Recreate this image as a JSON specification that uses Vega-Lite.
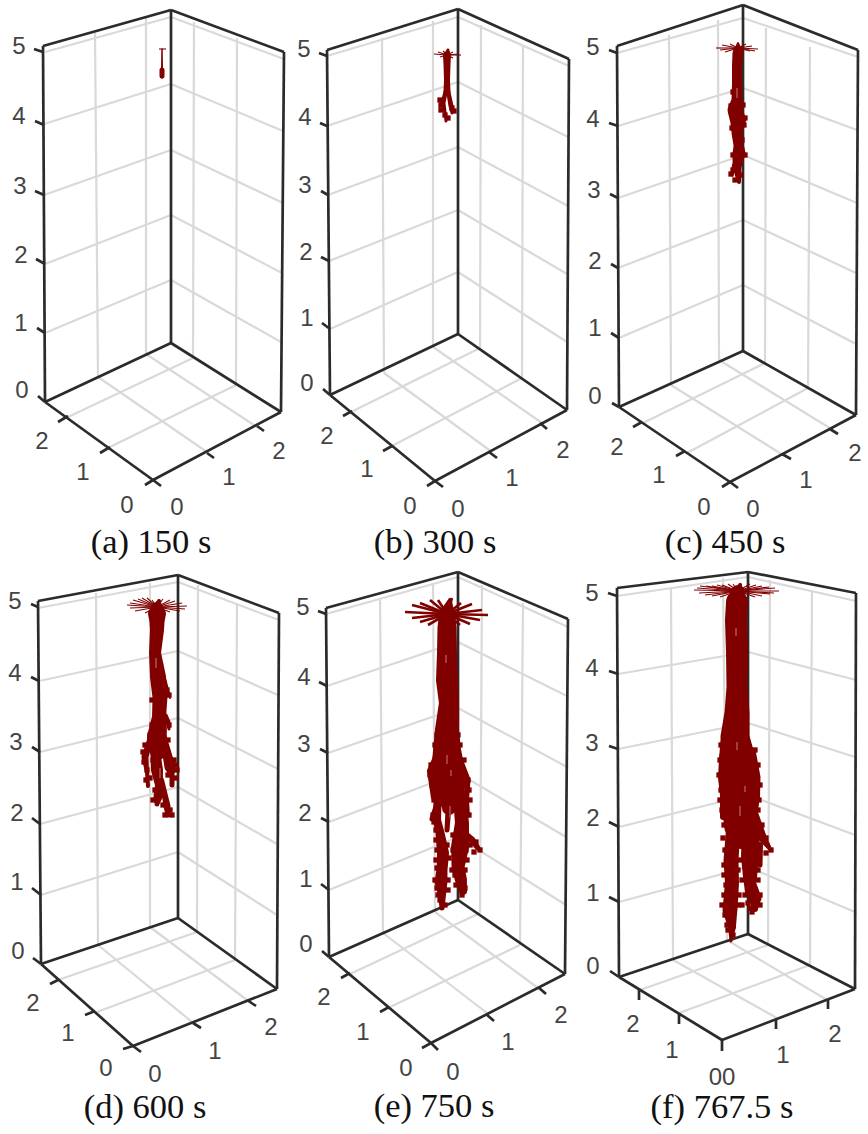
{
  "$schema": "https://vega.github.io/schema/vega-lite/v6.json",
  "autosize": {"type": "fit", "contains": "padding"},
  "width": 868,
  "height": 1134,
  "padding": 0,
  "background": "white",
  "datasets": {
    "grid": [
      {"x":45,"y":52,"x2":171,"y2":17},{"x":44,"y":124,"x2":171,"y2":84},{"x":44,"y":195,"x2":171,"y2":150},{"x":45,"y":264,"x2":171,"y2":215},{"x":45,"y":333,"x2":171,"y2":280},
      {"x":171,"y":17,"x2":284,"y2":59},{"x":171,"y":84,"x2":283,"y2":131},{"x":171,"y":150,"x2":283,"y2":203},{"x":171,"y":215,"x2":282,"y2":273},{"x":171,"y":280,"x2":281,"y2":342},
      {"x":95,"y":33,"x2":98,"y2":377},{"x":146,"y":18,"x2":146,"y2":354},{"x":194,"y":22,"x2":193,"y2":358},{"x":237,"y":38,"x2":236,"y2":385},
      {"x":98,"y":377,"x2":207,"y2":452},{"x":146,"y":354,"x2":257,"y2":427},{"x":193,"y":358,"x2":68,"y2":417},{"x":236,"y":385,"x2":110,"y2":447},

      {"x":327,"y":56,"x2":458,"y2":17},{"x":327,"y":126,"x2":458,"y2":82},{"x":328,"y":195,"x2":458,"y2":147},{"x":329,"y":261,"x2":458,"y2":210},{"x":330,"y":329,"x2":458,"y2":272},
      {"x":458,"y":17,"x2":569,"y2":66},{"x":458,"y":82,"x2":568,"y2":137},{"x":458,"y":147,"x2":568,"y2":206},{"x":458,"y":210,"x2":567,"y2":274},{"x":458,"y":272,"x2":567,"y2":342},
      {"x":382,"y":38,"x2":384,"y2":373},{"x":433,"y":21,"x2":433,"y2":347},{"x":481,"y":25,"x2":480,"y2":348},{"x":523,"y":45,"x2":522,"y2":378},
      {"x":384,"y":373,"x2":492,"y2":452},{"x":433,"y":347,"x2":542,"y2":423},{"x":480,"y":348,"x2":347,"y2":414},{"x":522,"y":378,"x2":390,"y2":447},

      {"x":617,"y":53,"x2":743,"y2":18},{"x":618,"y":126,"x2":743,"y2":88},{"x":618,"y":198,"x2":743,"y2":155},{"x":618,"y":268,"x2":743,"y2":220},{"x":619,"y":338,"x2":743,"y2":285},
      {"x":743,"y":18,"x2":858,"y2":57},{"x":743,"y":88,"x2":857,"y2":130},{"x":743,"y":155,"x2":857,"y2":203},{"x":743,"y":220,"x2":856,"y2":273},{"x":743,"y":285,"x2":856,"y2":344},
      {"x":669,"y":35,"x2":671,"y2":385},{"x":718,"y":20,"x2":719,"y2":360},{"x":766,"y":28,"x2":765,"y2":363},{"x":810,"y":47,"x2":808,"y2":388},
      {"x":671,"y":385,"x2":783,"y2":455},{"x":719,"y":360,"x2":833,"y2":430},{"x":765,"y":363,"x2":643,"y2":423},{"x":808,"y":388,"x2":687,"y2":453},

      {"x":38,"y":608,"x2":178,"y2":582},{"x":39,"y":681,"x2":178,"y2":651},{"x":40,"y":752,"x2":178,"y2":718},{"x":40,"y":824,"x2":178,"y2":787},{"x":41,"y":895,"x2":178,"y2":852},
      {"x":178,"y":582,"x2":279,"y2":620},{"x":178,"y":651,"x2":278,"y2":695},{"x":178,"y":718,"x2":278,"y2":769},{"x":178,"y":787,"x2":277,"y2":844},{"x":178,"y":852,"x2":277,"y2":915},
      {"x":96,"y":593,"x2":98,"y2":945},{"x":150,"y":583,"x2":150,"y2":927},{"x":198,"y":585,"x2":197,"y2":932},{"x":237,"y":603,"x2":235,"y2":960},
      {"x":98,"y":945,"x2":192,"y2":1022},{"x":150,"y":927,"x2":247,"y2":1000},{"x":197,"y":932,"x2":58,"y2":980},{"x":235,"y":960,"x2":97,"y2":1012},

      {"x":326,"y":614,"x2":458,"y2":577},{"x":327,"y":686,"x2":458,"y2":642},{"x":328,"y":753,"x2":458,"y2":708},{"x":329,"y":822,"x2":458,"y2":773},{"x":329,"y":890,"x2":458,"y2":837},
      {"x":458,"y":577,"x2":568,"y2":627},{"x":458,"y":642,"x2":567,"y2":696},{"x":458,"y":708,"x2":567,"y2":767},{"x":458,"y":773,"x2":566,"y2":837},{"x":458,"y":837,"x2":566,"y2":905},
      {"x":380,"y":598,"x2":383,"y2":933},{"x":433,"y":583,"x2":435,"y2":912},{"x":482,"y":585,"x2":480,"y2":913},{"x":523,"y":603,"x2":520,"y2":945},
      {"x":383,"y":933,"x2":487,"y2":1013},{"x":435,"y":912,"x2":538,"y2":988},{"x":480,"y":913,"x2":350,"y2":974},{"x":520,"y":945,"x2":390,"y2":1007},

      {"x":617,"y":596,"x2":748,"y2":577},{"x":618,"y":674,"x2":748,"y2":652},{"x":618,"y":749,"x2":748,"y2":723},{"x":619,"y":827,"x2":748,"y2":795},{"x":619,"y":902,"x2":748,"y2":867},
      {"x":748,"y":577,"x2":856,"y2":601},{"x":748,"y":652,"x2":856,"y2":680},{"x":748,"y":723,"x2":855,"y2":757},{"x":748,"y":795,"x2":855,"y2":835},{"x":748,"y":867,"x2":855,"y2":912},
      {"x":671,"y":587,"x2":673,"y2":960},{"x":723,"y":578,"x2":727,"y2":940},{"x":770,"y":580,"x2":768,"y2":945},{"x":812,"y":592,"x2":810,"y2":965},
      {"x":673,"y":960,"x2":777,"y2":1018},{"x":727,"y":940,"x2":827,"y2":1000},{"x":768,"y":945,"x2":640,"y2":990},{"x":810,"y":965,"x2":679,"y2":1013}
    ],
    "frame": [
      {"x":43,"y":46,"x2":171,"y2":10},{"x":171,"y":10,"x2":284,"y2":52},{"x":43,"y":46,"x2":45,"y2":402},{"x":171,"y":10,"x2":171,"y2":343},{"x":284,"y":52,"x2":281,"y2":412},{"x":45,"y":402,"x2":171,"y2":343},{"x":171,"y":343,"x2":281,"y2":412},{"x":281,"y":412,"x2":153,"y2":480},{"x":153,"y":480,"x2":45,"y2":402},
      {"x":34,"y":49,"x2":43,"y2":52},{"x":35,"y":121,"x2":44,"y2":125},{"x":35,"y":191,"x2":44,"y2":195},{"x":36,"y":259,"x2":45,"y2":264},{"x":37,"y":328,"x2":45,"y2":333},{"x":38,"y":396,"x2":45,"y2":402},
      {"x":58,"y":422,"x2":68,"y2":416},{"x":100,"y":453,"x2":110,"y2":447},{"x":145,"y":485,"x2":153,"y2":480},{"x":153,"y":480,"x2":161,"y2":486},{"x":207,"y":453,"x2":214,"y2":458},{"x":257,"y":426,"x2":264,"y2":431},

      {"x":327,"y":50,"x2":458,"y2":9},{"x":458,"y":9,"x2":569,"y2":59},{"x":327,"y":50,"x2":330,"y2":395},{"x":458,"y":9,"x2":458,"y2":334},{"x":569,"y":59,"x2":567,"y2":410},{"x":330,"y":395,"x2":458,"y2":334},{"x":458,"y":334,"x2":567,"y2":410},{"x":567,"y":410,"x2":435,"y2":481},{"x":435,"y":481,"x2":330,"y2":395},
      {"x":319,"y":53,"x2":327,"y2":56},{"x":320,"y":123,"x2":327,"y2":126},{"x":321,"y":191,"x2":328,"y2":195},{"x":321,"y":257,"x2":329,"y2":261},{"x":322,"y":323,"x2":330,"y2":329},{"x":323,"y":389,"x2":330,"y2":395},
      {"x":343,"y":416,"x2":352,"y2":411},{"x":383,"y":451,"x2":392,"y2":446},{"x":427,"y":486,"x2":435,"y2":481},{"x":435,"y":481,"x2":443,"y2":487},{"x":489,"y":452,"x2":497,"y2":458},{"x":540,"y":423,"x2":547,"y2":429},

      {"x":617,"y":46,"x2":743,"y2":5},{"x":743,"y":5,"x2":858,"y2":50},{"x":617,"y":46,"x2":619,"y2":407},{"x":743,"y":5,"x2":743,"y2":351},{"x":858,"y":50,"x2":856,"y2":415},{"x":619,"y":407,"x2":743,"y2":351},{"x":743,"y":351,"x2":856,"y2":415},{"x":856,"y":415,"x2":730,"y2":482},{"x":730,"y":482,"x2":619,"y2":407},
      {"x":609,"y":50,"x2":617,"y2":53},{"x":609,"y":123,"x2":618,"y2":126},{"x":610,"y":194,"x2":618,"y2":198},{"x":611,"y":264,"x2":618,"y2":268},{"x":611,"y":333,"x2":619,"y2":338},{"x":612,"y":403,"x2":619,"y2":407},
      {"x":633,"y":427,"x2":642,"y2":422},{"x":676,"y":456,"x2":685,"y2":451},{"x":722,"y":487,"x2":730,"y2":482},{"x":730,"y":482,"x2":738,"y2":488},{"x":782,"y":454,"x2":791,"y2":459},{"x":830,"y":429,"x2":838,"y2":434},

      {"x":38,"y":601,"x2":178,"y2":575},{"x":178,"y":575,"x2":279,"y2":613},{"x":38,"y":601,"x2":41,"y2":964},{"x":178,"y":575,"x2":178,"y2":918},{"x":279,"y":613,"x2":277,"y2":989},{"x":41,"y":964,"x2":178,"y2":918},{"x":178,"y":918,"x2":277,"y2":989},{"x":277,"y":989,"x2":133,"y2":1046},{"x":133,"y":1046,"x2":41,"y2":964},
      {"x":31,"y":604,"x2":38,"y2":607},{"x":31,"y":677,"x2":39,"y2":681},{"x":32,"y":747,"x2":40,"y2":752},{"x":32,"y":818,"x2":40,"y2":824},{"x":32,"y":888,"x2":41,"y2":895},{"x":33,"y":958,"x2":41,"y2":964},
      {"x":50,"y":984,"x2":58,"y2":980},{"x":85,"y":1015,"x2":95,"y2":1011},{"x":123,"y":1049,"x2":133,"y2":1046},{"x":133,"y":1046,"x2":141,"y2":1052},{"x":193,"y":1023,"x2":201,"y2":1028},{"x":247,"y":1000,"x2":256,"y2":1006},

      {"x":326,"y":608,"x2":458,"y2":572},{"x":458,"y":572,"x2":568,"y2":619},{"x":326,"y":608,"x2":329,"y2":957},{"x":458,"y":572,"x2":458,"y2":900},{"x":568,"y":619,"x2":565,"y2":974},{"x":329,"y":957,"x2":458,"y2":900},{"x":458,"y":900,"x2":565,"y2":974},{"x":565,"y":974,"x2":431,"y2":1043},{"x":431,"y":1043,"x2":329,"y2":957},
      {"x":318,"y":611,"x2":326,"y2":614},{"x":319,"y":682,"x2":327,"y2":686},{"x":320,"y":749,"x2":328,"y2":753},{"x":321,"y":818,"x2":329,"y2":822},{"x":321,"y":884,"x2":329,"y2":890},{"x":322,"y":951,"x2":329,"y2":957},
      {"x":341,"y":978,"x2":350,"y2":973},{"x":380,"y":1012,"x2":389,"y2":1007},{"x":422,"y":1048,"x2":431,"y2":1043},{"x":431,"y":1043,"x2":438,"y2":1050},{"x":486,"y":1014,"x2":494,"y2":1021},{"x":538,"y":987,"x2":546,"y2":994},

      {"x":617,"y":588,"x2":748,"y2":572},{"x":748,"y":572,"x2":856,"y2":593},{"x":617,"y":588,"x2":619,"y2":977},{"x":748,"y":572,"x2":748,"y2":934},{"x":856,"y":593,"x2":855,"y2":989},{"x":619,"y":977,"x2":748,"y2":934},{"x":748,"y":934,"x2":855,"y2":989},{"x":855,"y":989,"x2":722,"y2":1040},{"x":722,"y":1040,"x2":619,"y2":977},
      {"x":608,"y":593,"x2":617,"y2":596},{"x":609,"y":671,"x2":618,"y2":674},{"x":609,"y":746,"x2":618,"y2":749},{"x":609,"y":822,"x2":619,"y2":827},{"x":609,"y":897,"x2":619,"y2":902},{"x":610,"y":971,"x2":619,"y2":977},
      {"x":639,"y":989,"x2":639,"y2":1000},{"x":679,"y":1013,"x2":679,"y2":1024},{"x":722,"y":1040,"x2":722,"y2":1051},{"x":776,"y":1019,"x2":776,"y2":1029},{"x":828,"y":999,"x2":828,"y2":1009}
    ],
    "fan": [
      {"x":159,"y":49,"x2":166,"y2":49},
      {"x":447,"y":55,"x2":434,"y2":54},{"x":447,"y":55,"x2":438,"y2":52},{"x":447,"y":55,"x2":443,"y2":51},{"x":447,"y":55,"x2":448,"y2":49},{"x":447,"y":55,"x2":453,"y2":52},{"x":447,"y":55,"x2":458,"y2":54},{"x":447,"y":55,"x2":461,"y2":55},{"x":447,"y":55,"x2":453,"y2":58},{"x":447,"y":55,"x2":440,"y2":57},
      {"x":738,"y":48,"x2":716,"y2":48},{"x":738,"y":48,"x2":722,"y2":45},{"x":738,"y":48,"x2":730,"y2":44},{"x":738,"y":48,"x2":738,"y2":42},{"x":738,"y":48,"x2":746,"y2":44},{"x":738,"y":48,"x2":752,"y2":46},{"x":738,"y":48,"x2":758,"y2":49},{"x":738,"y":48,"x2":750,"y2":51},{"x":738,"y":48,"x2":725,"y2":52},{"x":738,"y":48,"x2":720,"y2":50},{"x":738,"y":48,"x2":755,"y2":51},
      {"x":157,"y":607,"x2":127,"y2":605},{"x":157,"y":607,"x2":130,"y2":603},{"x":157,"y":607,"x2":133,"y2":600},{"x":157,"y":607,"x2":138,"y2":599},{"x":157,"y":607,"x2":142,"y2":598},{"x":157,"y":607,"x2":147,"y2":598},{"x":157,"y":607,"x2":152,"y2":600},{"x":157,"y":607,"x2":163,"y2":599},{"x":157,"y":607,"x2":170,"y2":600},{"x":157,"y":607,"x2":175,"y2":601},{"x":157,"y":607,"x2":182,"y2":603},{"x":157,"y":607,"x2":187,"y2":606},{"x":157,"y":607,"x2":185,"y2":609},{"x":157,"y":607,"x2":180,"y2":611},{"x":157,"y":607,"x2":170,"y2":612},{"x":157,"y":607,"x2":130,"y2":608},{"x":157,"y":607,"x2":135,"y2":611},{"x":157,"y":607,"x2":145,"y2":613},
      {"x":738,"y":591,"x2":694,"y2":590},{"x":738,"y":591,"x2":697,"y2":588},{"x":738,"y":591,"x2":700,"y2":586},{"x":738,"y":591,"x2":706,"y2":586},{"x":738,"y":591,"x2":712,"y2":586},{"x":738,"y":591,"x2":717,"y2":585},{"x":738,"y":591,"x2":722,"y2":585},{"x":738,"y":591,"x2":728,"y2":584},{"x":738,"y":591,"x2":733,"y2":584},{"x":738,"y":591,"x2":741,"y2":583},{"x":738,"y":591,"x2":750,"y2":584},{"x":738,"y":591,"x2":756,"y2":585},{"x":738,"y":591,"x2":762,"y2":586},{"x":738,"y":591,"x2":769,"y2":587},{"x":738,"y":591,"x2":775,"y2":588},{"x":738,"y":591,"x2":779,"y2":591},{"x":738,"y":591,"x2":774,"y2":593},{"x":738,"y":591,"x2":770,"y2":594},{"x":738,"y":591,"x2":762,"y2":596},{"x":738,"y":591,"x2":755,"y2":597},{"x":738,"y":591,"x2":720,"y2":597},{"x":738,"y":591,"x2":712,"y2":596},{"x":738,"y":591,"x2":705,"y2":595},{"x":738,"y":591,"x2":699,"y2":593}
    ],
    "fanthick": [
      {"x":447,"y":614,"x2":405,"y2":612},{"x":447,"y":614,"x2":412,"y2":605},{"x":447,"y":614,"x2":420,"y2":603},{"x":447,"y":614,"x2":430,"y2":600},{"x":447,"y":614,"x2":438,"y2":600},{"x":447,"y":614,"x2":452,"y2":598},{"x":447,"y":614,"x2":461,"y2":603},{"x":447,"y":614,"x2":472,"y2":604},{"x":447,"y":614,"x2":482,"y2":610},{"x":447,"y":614,"x2":488,"y2":615},{"x":447,"y":614,"x2":480,"y2":620},{"x":447,"y":614,"x2":470,"y2":624},{"x":447,"y":614,"x2":460,"y2":625},{"x":447,"y":614,"x2":420,"y2":622},{"x":447,"y":614,"x2":428,"y2":625},{"x":447,"y":614,"x2":412,"y2":618}
    ],
    "plume": [
      {"b":"a1","o":0,"x":162,"y":49,"w":1.5},{"b":"a1","o":1,"x":162,"y":68,"w":2},{"b":"a1","o":2,"x":162,"y":70,"w":5},{"b":"a1","o":3,"x":162,"y":76,"w":5},{"b":"a1","o":4,"x":162,"y":78,"w":2},

      {"b":"b1","o":0,"x":448,"y":50,"w":3},{"b":"b1","o":1,"x":447,"y":56,"w":8},{"b":"b1","o":2,"x":447,"y":64,"w":7},{"b":"b1","o":3,"x":447,"y":80,"w":6},{"b":"b1","o":4,"x":447,"y":92,"w":7},
      {"b":"b2","o":0,"x":446,"y":90,"w":4},{"b":"b2","o":1,"x":443,"y":103,"w":5},{"b":"b2","o":2,"x":445,"y":112,"w":3},{"b":"b2","o":3,"x":446,"y":121,"w":3},
      {"b":"b3","o":0,"x":448,"y":90,"w":4},{"b":"b3","o":1,"x":451,"y":106,"w":5},{"b":"b3","o":2,"x":452,"y":113,"w":3},

      {"b":"c1","o":0,"x":738,"y":44,"w":3},{"b":"c1","o":1,"x":738,"y":53,"w":11},{"b":"c1","o":2,"x":737,"y":66,"w":10},{"b":"c1","o":3,"x":737,"y":84,"w":10},{"b":"c1","o":4,"x":737,"y":100,"w":11},{"b":"c1","o":5,"x":735,"y":110,"w":15},{"b":"c1","o":6,"x":738,"y":120,"w":16},{"b":"c1","o":7,"x":737,"y":133,"w":11},{"b":"c1","o":8,"x":738,"y":145,"w":9},{"b":"c1","o":9,"x":739,"y":153,"w":13},{"b":"c1","o":10,"x":737,"y":167,"w":9},{"b":"c1","o":11,"x":739,"y":182,"w":4},
      {"b":"c2","o":0,"x":734,"y":165,"w":4},{"b":"c2","o":1,"x":732,"y":175,"w":3},

      {"b":"d1","o":0,"x":159,"y":601,"w":4},{"b":"d1","o":1,"x":157,"y":608,"w":12},{"b":"d1","o":2,"x":157,"y":614,"w":18},{"b":"d1","o":3,"x":157,"y":622,"w":15},{"b":"d1","o":4,"x":157,"y":630,"w":14},{"b":"d1","o":5,"x":155,"y":653,"w":12},{"b":"d1","o":6,"x":158,"y":677,"w":16},{"b":"d1","o":7,"x":160,"y":697,"w":15},{"b":"d1","o":8,"x":159,"y":717,"w":14},{"b":"d1","o":9,"x":157,"y":737,"w":20},{"b":"d1","o":10,"x":158,"y":752,"w":16},
      {"b":"d2","o":0,"x":150,"y":740,"w":6},{"b":"d2","o":1,"x":145,"y":757,"w":7},{"b":"d2","o":2,"x":147,"y":772,"w":4},{"b":"d2","o":3,"x":148,"y":786,"w":4},
      {"b":"d3","o":0,"x":155,"y":747,"w":9},{"b":"d3","o":1,"x":157,"y":770,"w":12},{"b":"d3","o":2,"x":159,"y":785,"w":8},{"b":"d3","o":3,"x":158,"y":797,"w":9},{"b":"d3","o":4,"x":157,"y":804,"w":5},
      {"b":"d4","o":0,"x":165,"y":745,"w":8},{"b":"d4","o":1,"x":170,"y":767,"w":11},{"b":"d4","o":2,"x":172,"y":776,"w":5},{"b":"d4","o":3,"x":172,"y":785,"w":5},
      {"b":"d5","o":0,"x":161,"y":780,"w":6},{"b":"d5","o":1,"x":165,"y":796,"w":6},{"b":"d5","o":2,"x":167,"y":806,"w":7},{"b":"d5","o":3,"x":168,"y":815,"w":5},
      {"b":"d6","o":0,"x":165,"y":680,"w":3},{"b":"d6","o":1,"x":167,"y":690,"w":4},{"b":"d6","o":2,"x":170,"y":698,"w":2},
      {"b":"d7","o":0,"x":166,"y":715,"w":3},{"b":"d7","o":1,"x":168,"y":722,"w":5},{"b":"d7","o":2,"x":169,"y":729,"w":3},

      {"b":"e1","o":0,"x":450,"y":600,"w":4},{"b":"e1","o":1,"x":447,"y":614,"w":16},{"b":"e1","o":2,"x":447,"y":627,"w":19},{"b":"e1","o":3,"x":447,"y":653,"w":20},{"b":"e1","o":4,"x":447,"y":680,"w":22},{"b":"e1","o":5,"x":449,"y":703,"w":20},{"b":"e1","o":6,"x":447,"y":730,"w":24},{"b":"e1","o":7,"x":447,"y":750,"w":28},{"b":"e1","o":8,"x":448,"y":770,"w":34},{"b":"e1","o":9,"x":449,"y":790,"w":30},{"b":"e1","o":10,"x":449,"y":808,"w":14},
      {"b":"e2","o":0,"x":438,"y":785,"w":8},{"b":"e2","o":1,"x":437,"y":820,"w":8},{"b":"e2","o":2,"x":440,"y":833,"w":9},{"b":"e2","o":3,"x":443,"y":853,"w":12},{"b":"e2","o":4,"x":442,"y":870,"w":11},{"b":"e2","o":5,"x":441,"y":882,"w":13},{"b":"e2","o":6,"x":442,"y":895,"w":8},{"b":"e2","o":7,"x":442,"y":908,"w":5},
      {"b":"e3","o":0,"x":458,"y":785,"w":12},{"b":"e3","o":1,"x":462,"y":823,"w":14},{"b":"e3","o":2,"x":460,"y":847,"w":18},{"b":"e3","o":3,"x":458,"y":867,"w":13},{"b":"e3","o":4,"x":461,"y":880,"w":12},{"b":"e3","o":5,"x":463,"y":891,"w":8},
      {"b":"e4","o":0,"x":463,"y":832,"w":6},{"b":"e4","o":1,"x":472,"y":840,"w":7},{"b":"e4","o":2,"x":478,"y":848,"w":5},
      {"b":"e5","o":0,"x":449,"y":800,"w":6},{"b":"e5","o":1,"x":447,"y":830,"w":5},
      {"b":"e6","o":0,"x":437,"y":755,"w":6},{"b":"e6","o":1,"x":430,"y":771,"w":6},{"b":"e6","o":2,"x":433,"y":798,"w":4},
      {"b":"e7","o":0,"x":460,"y":760,"w":6},{"b":"e7","o":1,"x":467,"y":780,"w":7},{"b":"e7","o":2,"x":467,"y":800,"w":4},{"b":"e7","o":3,"x":468,"y":816,"w":4},
      {"b":"e8","o":0,"x":436,"y":805,"w":4},{"b":"e8","o":1,"x":432,"y":819,"w":5},

      {"b":"f1","o":0,"x":740,"y":585,"w":4},{"b":"f1","o":1,"x":738,"y":592,"w":14},{"b":"f1","o":2,"x":737,"y":602,"w":22},{"b":"f1","o":3,"x":736,"y":620,"w":22},{"b":"f1","o":4,"x":737,"y":653,"w":22},{"b":"f1","o":5,"x":737,"y":687,"w":21},{"b":"f1","o":6,"x":737,"y":713,"w":25},{"b":"f1","o":7,"x":735,"y":737,"w":29},{"b":"f1","o":8,"x":737,"y":757,"w":36},{"b":"f1","o":9,"x":738,"y":777,"w":40},{"b":"f1","o":10,"x":740,"y":803,"w":38},{"b":"f1","o":11,"x":740,"y":825,"w":32},{"b":"f1","o":12,"x":741,"y":845,"w":8},
      {"b":"f2","o":0,"x":734,"y":820,"w":14},{"b":"f2","o":1,"x":731,"y":860,"w":15},{"b":"f2","o":2,"x":732,"y":883,"w":14},{"b":"f2","o":3,"x":730,"y":910,"w":15},{"b":"f2","o":4,"x":732,"y":927,"w":8},{"b":"f2","o":5,"x":731,"y":941,"w":3},
      {"b":"f3","o":0,"x":750,"y":820,"w":16},{"b":"f3","o":1,"x":750,"y":857,"w":18},{"b":"f3","o":2,"x":750,"y":877,"w":14},{"b":"f3","o":3,"x":748,"y":893,"w":6},
      {"b":"f4","o":0,"x":752,"y":880,"w":6},{"b":"f4","o":1,"x":755,"y":898,"w":13},{"b":"f4","o":2,"x":755,"y":909,"w":6},
      {"b":"f5","o":0,"x":753,"y":750,"w":5},{"b":"f5","o":1,"x":757,"y":777,"w":7},{"b":"f5","o":2,"x":758,"y":797,"w":4},
      {"b":"f6","o":0,"x":753,"y":810,"w":8},{"b":"f6","o":1,"x":762,"y":837,"w":9},{"b":"f6","o":2,"x":770,"y":849,"w":4},
      {"b":"f7","o":0,"x":760,"y":845,"w":6},{"b":"f7","o":1,"x":760,"y":865,"w":5},
      {"b":"f8","o":0,"x":727,"y":750,"w":5},{"b":"f8","o":1,"x":722,"y":763,"w":6},{"b":"f8","o":2,"x":722,"y":790,"w":4},{"b":"f8","o":3,"x":723,"y":817,"w":6}
    ],
    "specks": [
      {"x":441,"y":105},{"x":441,"y":110},{"x":452,"y":108},{"x":454,"y":111},{"x":445,"y":115},{"x":448,"y":118},{"x":440,"y":100},
      {"x":731,"y":106},{"x":732,"y":114},{"x":745,"y":118},{"x":744,"y":125},{"x":742,"y":150},{"x":745,"y":155},{"x":733,"y":155},{"x":733,"y":170},{"x":741,"y":175},{"x":731,"y":174},{"x":735,"y":180},{"x":742,"y":140},{"x":732,"y":128},{"x":733,"y":92},{"x":743,"y":105},
      {"x":145,"y":745},{"x":143,"y":752},{"x":144,"y":762},{"x":149,"y":748},{"x":147,"y":770},{"x":146,"y":780},{"x":150,"y":778},{"x":153,"y":760},{"x":161,"y":755},{"x":174,"y":760},{"x":177,"y":770},{"x":176,"y":778},{"x":172,"y":770},{"x":168,"y":775},{"x":155,"y":790},{"x":153,"y":800},{"x":160,"y":795},{"x":163,"y":805},{"x":170,"y":810},{"x":172,"y":815},{"x":165,"y":815},{"x":167,"y":690},{"x":169,"y":695},{"x":169,"y":725},{"x":152,"y":725},{"x":152,"y":700},{"x":164,"y":730},{"x":150,"y":735},{"x":168,"y":740},{"x":176,"y":765},
      {"x":431,"y":765},{"x":430,"y":775},{"x":432,"y":785},{"x":434,"y":800},{"x":433,"y":815},{"x":434,"y":822},{"x":436,"y":830},{"x":436,"y":840},{"x":437,"y":850},{"x":436,"y":860},{"x":437,"y":868},{"x":435,"y":880},{"x":437,"y":888},{"x":438,"y":895},{"x":448,"y":880},{"x":448,"y":890},{"x":440,"y":900},{"x":445,"y":905},{"x":447,"y":845},{"x":449,"y":858},{"x":453,"y":835},{"x":453,"y":850},{"x":452,"y":870},{"x":455,"y":875},{"x":456,"y":885},{"x":465,"y":870},{"x":467,"y":860},{"x":466,"y":850},{"x":470,"y":845},{"x":476,"y":842},{"x":480,"y":850},{"x":474,"y":852},{"x":462,"y":895},{"x":465,"y":888},{"x":468,"y":780},{"x":469,"y":790},{"x":470,"y":800},{"x":469,"y":815},{"x":464,"y":760},{"x":435,"y":745},{"x":437,"y":735},{"x":458,"y":735},{"x":460,"y":745},
      {"x":721,"y":745},{"x":720,"y":760},{"x":719,"y":775},{"x":721,"y":790},{"x":720,"y":800},{"x":722,"y":810},{"x":724,"y":825},{"x":723,"y":838},{"x":725,"y":850},{"x":724,"y":865},{"x":724,"y":875},{"x":726,"y":885},{"x":724,"y":895},{"x":722,"y":905},{"x":725,"y":915},{"x":727,"y":925},{"x":738,"y":905},{"x":739,"y":895},{"x":738,"y":870},{"x":740,"y":860},{"x":742,"y":880},{"x":745,"y":895},{"x":742,"y":905},{"x":755,"y":750},{"x":758,"y":765},{"x":760,"y":785},{"x":759,"y":800},{"x":758,"y":810},{"x":762,"y":825},{"x":766,"y":838},{"x":771,"y":850},{"x":766,"y":853},{"x":758,"y":870},{"x":758,"y":880},{"x":760,"y":895},{"x":760,"y":905},{"x":750,"y":908},{"x":748,"y":903},{"x":752,"y":912},{"x":757,"y":840},{"x":728,"y":905},{"x":733,"y":935},{"x":728,"y":930},{"x":733,"y":920}
    ],
    "gaps": [
      {"x":737,"y":88,"x2":737,"y2":98},{"x":156,"y":658,"x2":156,"y2":668},{"x":160,"y":768,"x2":160,"y2":778},{"x":450,"y":806,"x2":450,"y2":818},{"x":446,"y":655,"x2":446,"y2":663},{"x":447,"y":755,"x2":447,"y2":764},{"x":451,"y":770,"x2":451,"y2":776},{"x":737,"y":742,"x2":737,"y2":750},{"x":740,"y":806,"x2":740,"y2":816},{"x":736,"y":628,"x2":736,"y2":636},{"x":745,"y":786,"x2":745,"y2":792}
    ],
    "ticklabels": [
      {"t":"5","x":19,"y":47},{"t":"4","x":19,"y":117},{"t":"3","x":20,"y":187},{"t":"2","x":21,"y":256},{"t":"1","x":21,"y":324},{"t":"0","x":22,"y":391},{"t":"2","x":42,"y":442},{"t":"1","x":83,"y":473},{"t":"0","x":127,"y":506},{"t":"0","x":177,"y":508},{"t":"1","x":229,"y":478},{"t":"2","x":279,"y":452},
      {"t":"5","x":304,"y":50},{"t":"4","x":305,"y":118},{"t":"3","x":305,"y":186},{"t":"2","x":306,"y":253},{"t":"1","x":307,"y":319},{"t":"0","x":307,"y":384},{"t":"2","x":327,"y":437},{"t":"1","x":367,"y":470},{"t":"0","x":410,"y":507},{"t":"0","x":458,"y":510},{"t":"1","x":512,"y":479},{"t":"2","x":563,"y":451},
      {"t":"5","x":593,"y":48},{"t":"4","x":593,"y":120},{"t":"3","x":594,"y":191},{"t":"2","x":595,"y":262},{"t":"1","x":595,"y":329},{"t":"0","x":595,"y":397},{"t":"2","x":617,"y":448},{"t":"1","x":659,"y":476},{"t":"0","x":704,"y":508},{"t":"0","x":753,"y":510},{"t":"1","x":806,"y":481},{"t":"2","x":855,"y":454},
      {"t":"5","x":15,"y":602},{"t":"4","x":15,"y":674},{"t":"3","x":16,"y":743},{"t":"2","x":17,"y":814},{"t":"1","x":17,"y":883},{"t":"0","x":18,"y":952},{"t":"2","x":33,"y":1004},{"t":"1","x":68,"y":1034},{"t":"0","x":106,"y":1069},{"t":"0","x":155,"y":1075},{"t":"1","x":215,"y":1052},{"t":"2","x":271,"y":1028},
      {"t":"5","x":303,"y":608},{"t":"4","x":304,"y":678},{"t":"3","x":304,"y":745},{"t":"2","x":305,"y":814},{"t":"1","x":306,"y":880},{"t":"0","x":306,"y":945},{"t":"2","x":324,"y":998},{"t":"1","x":363,"y":1033},{"t":"0","x":406,"y":1069},{"t":"0","x":453,"y":1073},{"t":"1","x":508,"y":1043},{"t":"2","x":561,"y":1016},
      {"t":"5","x":592,"y":594},{"t":"4","x":592,"y":669},{"t":"3","x":592,"y":744},{"t":"2","x":593,"y":819},{"t":"1","x":593,"y":894},{"t":"0","x":593,"y":967},{"t":"2","x":633,"y":1025},{"t":"1","x":672,"y":1051},{"t":"00","x":722,"y":1078},{"t":"1","x":783,"y":1056},{"t":"2","x":835,"y":1035}
    ],
    "captions": [
      {"t":"(a) 150 s","x":151,"y":543},{"t":"(b) 300 s","x":435,"y":543},{"t":"(c) 450 s","x":725,"y":543},
      {"t":"(d) 600 s","x":145,"y":1108},{"t":"(e) 750 s","x":434,"y":1107},{"t":"(f) 767.5 s","x":722,"y":1108}
    ]
  },
  "encoding": {
    "x": {"field": "x", "type": "quantitative", "scale": {"domain": [0, 868], "nice": false, "zero": false}, "axis": null},
    "y": {"field": "y", "type": "quantitative", "scale": {"domain": [1134, 0], "nice": false, "zero": false}, "axis": null}
  },
  "layer": [
    {
      "data": {"name": "grid"},
      "mark": {"type": "rule", "color": "#d9d9d9", "strokeWidth": 2.2},
      "encoding": {"x2": {"field": "x2"}, "y2": {"field": "y2"}}
    },
    {
      "data": {"name": "frame"},
      "mark": {"type": "rule", "color": "#2b2b2b", "strokeWidth": 2.7},
      "encoding": {"x2": {"field": "x2"}, "y2": {"field": "y2"}}
    },
    {
      "data": {"name": "fan"},
      "mark": {"type": "rule", "color": "#800000", "strokeWidth": 1.1},
      "encoding": {"x2": {"field": "x2"}, "y2": {"field": "y2"}}
    },
    {
      "data": {"name": "fanthick"},
      "mark": {"type": "rule", "color": "#800000", "strokeWidth": 2.6},
      "encoding": {"x2": {"field": "x2"}, "y2": {"field": "y2"}}
    },
    {
      "data": {"name": "plume"},
      "mark": {"type": "trail", "color": "#800000"},
      "encoding": {
        "detail": {"field": "b"},
        "order": {"field": "o"},
        "size": {"field": "w", "type": "quantitative", "scale": null}
      }
    },
    {
      "data": {"name": "specks"},
      "mark": {"type": "square", "color": "#800000", "size": 28, "opacity": 1},
      "encoding": {}
    },
    {
      "data": {"name": "gaps"},
      "mark": {"type": "rule", "color": "#b86a6a", "strokeWidth": 1.2},
      "encoding": {"x2": {"field": "x2"}, "y2": {"field": "y2"}}
    },
    {
      "data": {"name": "ticklabels"},
      "mark": {"type": "text", "font": "Liberation Sans", "fontSize": 24, "color": "#444444", "align": "center", "baseline": "middle"},
      "encoding": {"text": {"field": "t"}}
    },
    {
      "data": {"name": "captions"},
      "mark": {"type": "text", "font": "Liberation Serif", "fontSize": 34.5, "color": "#111111", "align": "center", "baseline": "middle"},
      "encoding": {"text": {"field": "t"}}
    }
  ],
  "config": {"view": {"stroke": null}}
}
